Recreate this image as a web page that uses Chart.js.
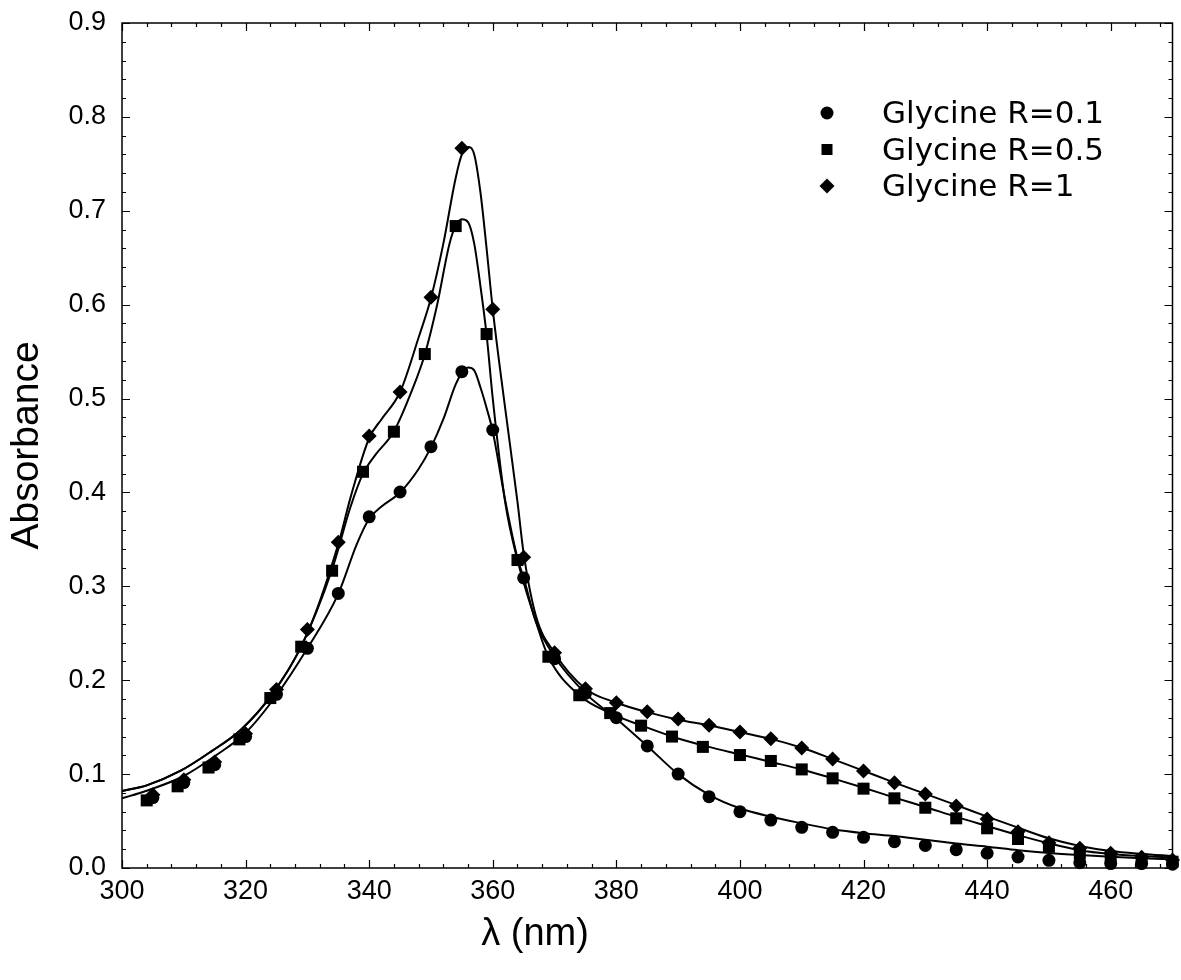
<!DOCTYPE html>
<html>
<head>
<meta charset="utf-8">
<script src="https://cdn.jsdelivr.net/npm/chart.js@4.4.1/dist/chart.umd.min.js"></script>
<style>
  html, body { margin: 0; padding: 0; background: #ffffff; }
  #wrap { width: 1181px; height: 980px; position: relative; }
</style>
</head>
<body>
<div id="wrap"><canvas id="c" width="1181" height="980"></canvas></div>
<script>
// ---------- DATA ----------
const seriesNames = ['Glycine R=0.1', 'Glycine R=0.5', 'Glycine R=1'];

// measured points (markers)
const wlCircle = [305,310,315,320,325,330,335,340,345,350,355,360,365,370,375,380,385,390,395,400,405,410,415,420,425,430,435,440,445,450,455,460,465,470];
const absCircle = [0.075,0.091,0.110,0.140,0.185,0.234,0.2925,0.374,0.4005,0.4487,0.5286,0.4665,0.309,0.223,0.186,0.160,0.130,0.100,0.076,0.060,0.051,0.0433,0.038,0.0327,0.028,0.024,0.0195,0.0157,0.0117,0.0082,0.0057,0.0047,0.0047,0.0040];

const wlSquare = [304,309,314,319,324,329,334,339,344,349,354,359,364,369,374,379,384,389,394,400,405,410,415,420,425,430,435,440,445,450,455,460,465,470];
const absSquare = [0.072,0.087,0.107,0.137,0.181,0.2357,0.3166,0.422,0.4647,0.5474,0.6837,0.5687,0.328,0.225,0.184,0.165,0.1516,0.140,0.129,0.1203,0.114,0.105,0.0955,0.0845,0.0742,0.0642,0.0529,0.0423,0.0309,0.0227,0.0157,0.012,0.0093,0.0067];

const wlDiamond = [305,310,315,320,325,330,335,340,345,350,355,360,365,370,375,380,385,390,395,400,405,410,415,420,425,430,435,440,445,450,455,460,465,470];
const absDiamond = [0.078,0.094,0.113,0.143,0.190,0.254,0.347,0.460,0.507,0.6078,0.7665,0.595,0.331,0.2293,0.191,0.176,0.1665,0.1587,0.152,0.1448,0.1377,0.1278,0.116,0.1033,0.0909,0.0788,0.066,0.0522,0.0387,0.027,0.021,0.0157,0.0114,0.0085];

// smooth fitted curves
const wlFitCircle = [300,304,310,315,320,325,330,335,338,340,342,345,348,350,352,354,355,356,357,358,359,360,362,364,365,367,370,375,380,385,390,395,400,405,410,415,420,425,430,435,440,445,450,455,460,465,470];
const absFitCircle = [0.0742,0.0823,0.098,0.119,0.144,0.184,0.234,0.292,0.345,0.372,0.385,0.400,0.425,0.448,0.478,0.515,0.527,0.533,0.530,0.512,0.490,0.465,0.392,0.330,0.309,0.262,0.225,0.186,0.159,0.130,0.100,0.078,0.0636,0.0546,0.0476,0.0412,0.037,0.034,0.030,0.026,0.0227,0.019,0.016,0.0138,0.012,0.0105,0.0093];

const wlFitSquare = [300,304,309.5,314.4,319.2,324.4,329,334,337,339,341,344,347,349,351,353,354,355,356,357,358,359,360,362,364,367,369,374,379,385,390,395,400,405,410,415,420,425,430,435,440,445,450,455,460,465,470];
const absFitSquare = [0.082,0.088,0.1036,0.124,0.147,0.186,0.236,0.318,0.385,0.420,0.440,0.465,0.510,0.547,0.600,0.665,0.684,0.691,0.688,0.665,0.620,0.568,0.500,0.390,0.328,0.262,0.225,0.184,0.165,0.1495,0.138,0.129,0.121,0.113,0.105,0.0955,0.0855,0.075,0.065,0.0545,0.0447,0.035,0.0263,0.019,0.015,0.0128,0.0114];

const wlFitDiamond = [300,304,309.5,314.4,319.2,324.4,330,335,337,340,342,345,348,350,352,354,355,356,357,358,359,360,362,364,365,367,370,375,380,385,390,395,400,405,410,415,420,425,430,435,440,445,450,455,460,465,470];
const absFitDiamond = [0.082,0.088,0.1036,0.124,0.147,0.186,0.250,0.345,0.395,0.458,0.478,0.507,0.565,0.607,0.665,0.735,0.760,0.768,0.760,0.720,0.660,0.595,0.490,0.390,0.335,0.268,0.229,0.191,0.176,0.166,0.158,0.152,0.1448,0.1375,0.128,0.116,0.1035,0.091,0.079,0.067,0.0547,0.043,0.0316,0.0234,0.018,0.015,0.0128];

const xTickValues = [300,320,340,360,380,400,420,440,460];
const yTickValues = [0.0,0.1,0.2,0.3,0.4,0.5,0.6,0.7,0.8,0.9];
const xTitle = 'λ (nm)';
const yTitle = 'Absorbance';

// ---------- CHART ----------
const pts = (xs, ys) => xs.map((x, i) => ({x: x, y: ys[i]}));
const markerStyles = ['circle', 'rect', 'rectRot'];
const markerRadius = [6.5, 8.5, 7.5];

const fitSets = [
  [wlFitCircle, absFitCircle],
  [wlFitSquare, absFitSquare],
  [wlFitDiamond, absFitDiamond]
].map((s, i) => ({
  label: seriesNames[i] + ' fit',
  data: pts(s[0], s[1]),
  showLine: true,
  borderColor: '#000',
  borderWidth: 2,
  pointRadius: 0,
  pointHoverRadius: 0,
  cubicInterpolationMode: 'monotone',
  fill: false,
  order: 2
}));

const markSets = [
  [wlCircle, absCircle],
  [wlSquare, absSquare],
  [wlDiamond, absDiamond]
].map((s, i) => ({
  label: seriesNames[i],
  data: pts(s[0], s[1]),
  showLine: false,
  pointStyle: markerStyles[i],
  pointRadius: markerRadius[i],
  pointBackgroundColor: '#000',
  pointBorderColor: '#000',
  pointBorderWidth: 0,
  clip: false,
  order: 1
}));

const frameTicks = {
  id: 'frameTicks',
  afterDatasetsDraw(chart) {
    const {ctx, chartArea: a, scales: {x, y}} = chart;
    ctx.save();
    ctx.strokeStyle = '#000';
    ctx.lineWidth = 1.5;
    ctx.strokeRect(a.left, a.top, a.right - a.left, a.bottom - a.top);
    ctx.lineWidth = 1.2;
    ctx.beginPath();
    const xs = [];
    xTickValues.forEach(v => { for (let k = 0; k < 5; k++) xs.push([v + 4 * k, k === 0]); });
    xs.forEach(([v, major]) => {
      if (v > x.max + 1e-9) return;
      const px = Math.round(x.getPixelForValue(v)) + 0.5;
      const L = major ? 8 : 4;
      ctx.moveTo(px, a.bottom); ctx.lineTo(px, a.bottom - L);
      ctx.moveTo(px, a.top); ctx.lineTo(px, a.top + L);
    });
    const ys = [];
    yTickValues.forEach(v => { for (let k = 0; k < 5; k++) ys.push([v + 0.02 * k, k === 0]); });
    ys.forEach(([v, major]) => {
      if (v > y.max + 1e-9) return;
      const py = Math.round(y.getPixelForValue(v)) + 0.5;
      const L = major ? 8 : 4;
      ctx.moveTo(a.left, py); ctx.lineTo(a.left + L, py);
      ctx.moveTo(a.right, py); ctx.lineTo(a.right - L, py);
    });
    ctx.stroke();
    ctx.restore();
  },
  afterDraw(chart) {
    const {ctx} = chart;
    ctx.save();
    // x axis title
    ctx.fillStyle = '#000';
    ctx.font = '38px "Liberation Sans", Arial, sans-serif';
    ctx.textAlign = 'center';
    ctx.textBaseline = 'middle';
    ctx.fillText(xTitle, 535, 935);
    // legend
    const lx = 827, ly0 = 113, dy = 36.5;
    ctx.font = '31px "DejaVu Sans", Verdana, sans-serif';
    ctx.textAlign = 'left';
    markSets.forEach((ds, i) => {
      const cy = ly0 + i * dy;
      ctx.fillStyle = '#000';
      ctx.beginPath();
      if (i === 0) { ctx.arc(lx, cy, 6.5, 0, Math.PI * 2); }
      else if (i === 1) { ctx.rect(lx - 5.5, cy - 5.5, 11, 11); }
      else { ctx.moveTo(lx - 7.5, cy); ctx.lineTo(lx, cy - 7.5); ctx.lineTo(lx + 7.5, cy); ctx.lineTo(lx, cy + 7.5); ctx.closePath(); }
      ctx.fill();
      ctx.fillText(ds.label, 882, cy + 2);
    });
    ctx.restore();
  }
};

new Chart(document.getElementById('c'), {
  type: 'scatter',
  data: { datasets: [...fitSets, ...markSets] },
  options: {
    responsive: false,
    animation: false,
    events: [],
    layout: { padding: { top: 23, right: 5, left: 0, bottom: 0 } },
    plugins: { legend: { display: false }, tooltip: { enabled: false } },
    scales: {
      x: {
        type: 'linear',
        min: 300, max: 470,
        afterBuildTicks: s => { s.ticks = xTickValues.map(v => ({value: v})); },
        afterFit: s => { s.height = 112; s.paddingLeft = 0; s.paddingRight = 0; },
        grid: { display: false, drawTicks: false },
        border: { display: false },
        ticks: {
          color: '#000',
          padding: 7,
          maxRotation: 0,
          autoSkip: false,
          font: { family: '"Liberation Sans", Arial, sans-serif', size: 27 },
          callback: v => String(v)
        },
        title: { display: false }
      },
      y: {
        type: 'linear',
        min: 0, max: 0.9,
        afterBuildTicks: s => { s.ticks = yTickValues.map(v => ({value: v})); },
        afterFit: s => { s.width = 122; s.paddingTop = 0; s.paddingBottom = 0; },
        grid: { display: false, drawTicks: false },
        border: { display: false },
        ticks: {
          color: '#000',
          padding: 16,
          autoSkip: false,
          font: { family: '"Liberation Sans", Arial, sans-serif', size: 27 },
          callback: v => Number(v).toFixed(1)
        },
        title: {
          display: true,
          text: yTitle,
          color: '#000',
          font: { family: '"Liberation Sans", Arial, sans-serif', size: 39 },
          padding: { top: 4, bottom: 0 }
        }
      }
    }
  },
  plugins: [frameTicks]
});
</script>
</body>
</html>
